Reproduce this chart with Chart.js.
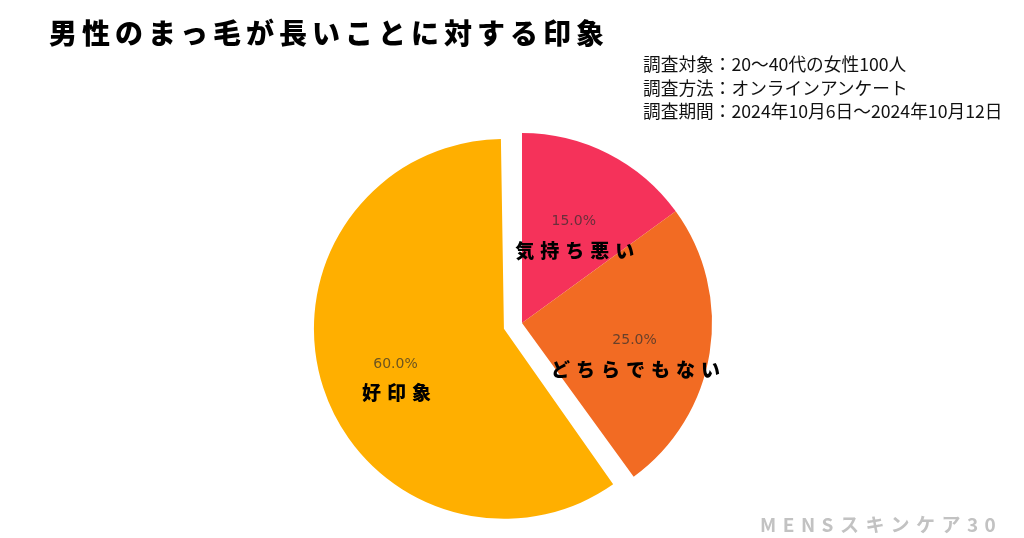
<!DOCTYPE html>
<html lang="ja">
<head>
<meta charset="utf-8">
<script src="https://cdn.jsdelivr.net/npm/chart.js@4.4.0/dist/chart.umd.min.js"></script>
<style>
    html, body { margin: 0; padding: 0; background: #fff; }
    #wrap { position: relative; width: 1024px; height: 538px; overflow: hidden; }
    #wrap canvas { position: absolute; left: 0; top: 0; }
    .title {
        position: absolute; left: 49px; top: 18px;
        font-family: "Noto Sans CJK JP", sans-serif; font-weight: 900;
        font-size: 28px; line-height: 28px; letter-spacing: 5px; color: #000;
        white-space: nowrap;
    }
    .note {
        position: absolute; left: 643px; top: 52px;
        font-family: "Noto Sans CJK JP", sans-serif; font-size: 17.7px;
        line-height: 23.5px; color: #111; white-space: nowrap;
    }
    .mark {
        position: absolute; left: 760px; top: 511px;
        font-family: "Noto Sans CJK JP", sans-serif; font-weight: 700;
        font-size: 19px; line-height: 26px; letter-spacing: 6.5px; color: #c2c2c2;
        white-space: nowrap;
    }
</style>
</head>
<body>
<div id="wrap">
    <canvas id="pieChart" width="1024" height="538"></canvas>
    <div class="title">男性のまっ毛が長いことに対する印象</div>
    <div class="note">
        調査対象：20～40代の女性100人<br>
        調査方法：オンラインアンケート<br>
        調査期間：2024年10月6日～2024年10月12日
    </div>
    <div class="mark">MENSスキンケア30</div>
</div>
<script>
// clockwise from the top
const categories = ["気持ち悪い", "どちらでもない", "好印象"];
const shares = [15, 25, 60];

// Chart.js moves an offset slice by offset/4 and also grows it by the same
// amount when it is wider than a half circle; undo the growth so all slices
// keep one radius (like an "exploded" wedge)
const keepRadius = {
    id: "keepRadius",
    afterDatasetsUpdate(chart) {
        chart.getDatasetMeta(0).data.forEach(arc => {
            const off = (arc.options.offset || 0) / 4;
            const fix = 1 - Math.sin(Math.min(Math.PI, arc.circumference || 0));
            arc.outerRadius -= off * fix;
            arc._grow = off * fix;
        });
    }
};

const sliceLabels = {
    id: "sliceLabels",
    afterDatasetsDraw(chart) {
        const ctx = chart.ctx;
        const meta = chart.getDatasetMeta(0);
        const total = shares.reduce((a, b) => a + b, 0);
        meta.data.forEach((arc, i) => {
            const p = arc.getProps(["x", "y", "startAngle", "endAngle", "outerRadius"], true);
            const mid = (p.startAngle + p.endAngle) / 2;
            const shift = (arc.options.offset || 0) / 4;
            const r = p.outerRadius + (arc._grow || 0);
            const d = shift + r * 0.6;
            const x = p.x + Math.cos(mid) * d;
            const y = p.y + Math.sin(mid) * d;

            ctx.save();
            ctx.textAlign = "center";
            ctx.textBaseline = "middle";
            ctx.fillStyle = "rgba(45,45,45,0.7)";
            ctx.font = "14px 'DejaVu Sans'";
            ctx.fillText((shares[i] / total * 100).toFixed(1) + "%", x, y);

            ctx.fillStyle = "#000";
            ctx.font = "900 19px 'Noto Sans CJK JP'";
            ctx.letterSpacing = "6px";
            ctx.fillText(categories[i], x + 4, y + 29);
            ctx.restore();
        });
    }
};

new Chart(document.getElementById("pieChart"), {
    type: "pie",
    data: {
        labels: categories,
        datasets: [{
            data: shares,
            backgroundColor: ["#F5325A", "#F26B23", "#FFAF00"],
            borderWidth: 0,
            offset: [0, 0, 76],
            radius: 190
        }]
    },
    options: {
        responsive: false,
        animation: false,
        layout: { padding: { left: 322, right: 302, top: 123, bottom: 15 } },
        plugins: {
            legend: { display: false },
            tooltip: { enabled: false }
        }
    },
    plugins: [keepRadius, sliceLabels]
});
</script>
</body>
</html>
